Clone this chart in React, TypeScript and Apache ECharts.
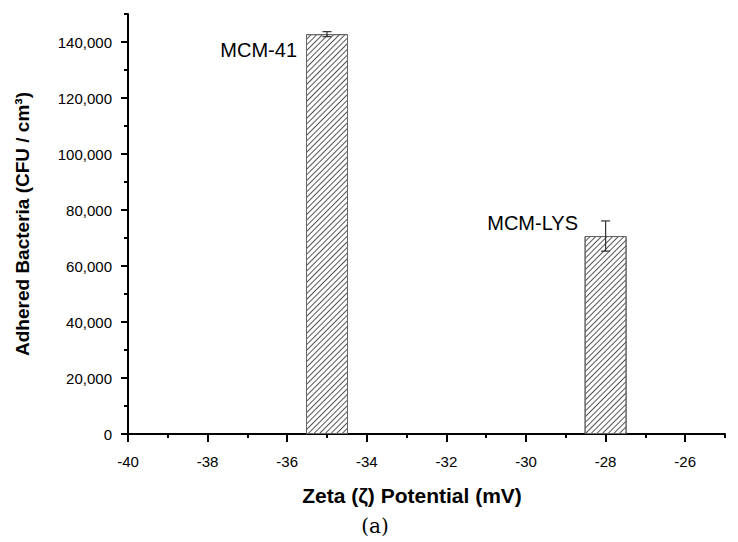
import React, { useEffect, useRef } from "react";
import * as echarts from "echarts";

const samples = ["MCM-41", "MCM-LYS"];
const zetaPotential = [-35, -28];
const adheredBacteria = [142800, 70700];
const errors = [900, 5400];
const yMajorTicks = [0, 20000, 40000, 60000, 80000, 100000, 120000, 140000];
const xMajorTicks = [-40, -38, -36, -34, -32, -30, -28, -26];

export default function App() {
  const ref = useRef<HTMLDivElement>(null);
  useEffect(() => {
    if (!ref.current) return;
    const chart = echarts.init(ref.current, null, { renderer: "svg" });
    const font = "'Liberation Sans', Arial, sans-serif";
    const barData = zetaPotential.map((x, i) => [x, adheredBacteria[i]]);
    const errData = zetaPotential.map((x, i) => [x, adheredBacteria[i], errors[i]]);
    chart.setOption({
      animation: false,
      backgroundColor: "#fff",
      grid: { left: 128, right: 13, top: 14, bottom: 108 },
      xAxis: [
        {
          type: "value",
          min: -40,
          max: -25,
          interval: 1,
          axisLine: { show: true, onZero: false, lineStyle: { color: "#000", width: 2 } },
          axisTick: { show: true, length: 4, lineStyle: { color: "#000", width: 2 } },
          axisLabel: { show: false },
          splitLine: { show: false },
        },
        {
          type: "value",
          position: "bottom",
          min: -40,
          max: -25,
          interval: 2,
          axisLine: { show: false, onZero: false },
          axisTick: { show: true, length: 8, customValues: xMajorTicks, lineStyle: { color: "#000", width: 2 } },
          axisLabel: {
            show: true,
            customValues: xMajorTicks,
            color: "#000",
            fontFamily: font,
            fontSize: 15,
            margin: 20,
          },
          splitLine: { show: false },
        },
      ],
      yAxis: [
        {
          type: "value",
          min: 0,
          max: 150000,
          interval: 10000,
          axisLine: { show: true, onZero: false, lineStyle: { color: "#000", width: 2 } },
          axisTick: { show: true, length: 4, lineStyle: { color: "#000", width: 2 } },
          axisLabel: { show: false },
          splitLine: { show: false },
        },
        {
          type: "value",
          position: "left",
          min: 0,
          max: 150000,
          interval: 20000,
          axisLine: { show: false, onZero: false },
          axisTick: { show: true, length: 7, customValues: yMajorTicks, lineStyle: { color: "#000", width: 2 } },
          axisLabel: {
            show: true,
            customValues: yMajorTicks,
            color: "#000",
            fontFamily: font,
            fontSize: 15,
            margin: 16,
            formatter: (v: number) => v.toLocaleString("en-US"),
          },
          splitLine: { show: false },
          name: "Adhered Bacteria (CFU / cm\u00b3)",
          nameLocation: "middle",
          nameGap: 96,
          nameTextStyle: { color: "#000", fontFamily: font, fontSize: 19, fontWeight: "bold" },
        },
      ],
      series: [
        {
          type: "bar",
          xAxisIndex: 0,
          yAxisIndex: 0,
          data: barData,
          barWidth: 42,
          itemStyle: {
            color: "#fff",
            borderColor: "#666",
            borderWidth: 1,
            decal: {
              symbol: "rect",
              symbolSize: 1,
              color: "#555",
              backgroundColor: "#fff",
              dashArrayX: [1, 0],
              dashArrayY: [1, 3],
              rotation: -Math.PI / 4,
            },
          },
        },
        {
          type: "custom",
          xAxisIndex: 0,
          yAxisIndex: 0,
          data: errData,
          z: 10,
          renderItem: (params: any, api: any) => {
            const x = api.value(0);
            const y = api.value(1);
            const e = api.value(2);
            const top = api.coord([x, y + e]);
            const bot = api.coord([x, y - e]);
            const hw = 4.5;
            const style = { stroke: "#333", lineWidth: 1.2 };
            return {
              type: "group",
              children: [
                { type: "line", shape: { x1: top[0], y1: top[1], x2: bot[0], y2: bot[1] }, style },
                { type: "line", shape: { x1: top[0] - hw, y1: top[1], x2: top[0] + hw, y2: top[1] }, style },
                { type: "line", shape: { x1: bot[0] - hw, y1: bot[1], x2: bot[0] + hw, y2: bot[1] }, style },
              ],
            };
          },
        },
      ],
      graphic: [
        {
          type: "text",
          right: 738 - 297,
          top: 40,
          style: { text: samples[0], fontFamily: font, fontSize: 20, fill: "#000" },
        },
        {
          type: "text",
          right: 738 - 578,
          top: 213,
          style: { text: samples[1], fontFamily: font, fontSize: 20, fill: "#000" },
        },
        {
          type: "text",
          x: 412,
          y: 495,
          style: {
            text: "Zeta (\u03b6) Potential (mV)",
            fontFamily: font,
            fontSize: 21,
            fontWeight: "bold",
            fill: "#000",
            align: "center",
            verticalAlign: "middle",
          },
        },
        {
          type: "text",
          x: 375,
          y: 526,
          style: {
            text: "(a)",
            fontFamily: "'DejaVu Serif', 'Liberation Serif', serif",
            fontSize: 20,
            fill: "#000",
            align: "center",
            verticalAlign: "middle",
          },
        },
      ],
    });
    return () => chart.dispose();
  }, []);
  return <div ref={ref} style={{ width: 738, height: 542, position: "absolute", left: 0, top: 0 }} />;
}
